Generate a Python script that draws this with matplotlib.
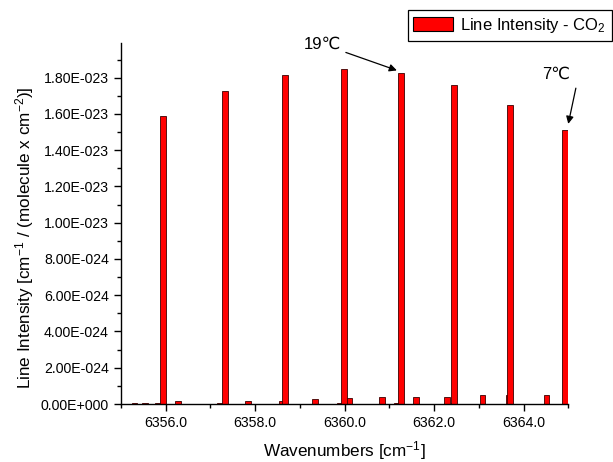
import matplotlib
matplotlib.use("Agg")
import matplotlib.pyplot as plt
import matplotlib.ticker as mticker
import matplotlib.patches as mpatches

plt.rcParams["font.family"] = ["Liberation Sans", "DejaVu Sans"]
plt.rcParams["mathtext.fontset"] = "custom"
plt.rcParams["mathtext.rm"] = "Liberation Sans"
plt.rcParams["mathtext.it"] = "Liberation Sans"
plt.rcParams["mathtext.default"] = "regular"

# ── Data ──────────────────────────────────────────────────────────────────────
# strong lines (wavenumber cm-1, intensity)
WN_STRONG = [6355.94, 6357.33, 6358.67, 6359.99, 6361.26, 6362.45, 6363.70, 6364.93]
I_STRONG = [1.586e-23, 1.729e-23, 1.815e-23, 1.846e-23, 1.823e-23, 1.757e-23, 1.650e-23, 1.514e-23]

# weak lines near the baseline
WN_WEAK = [6355.31, 6355.54, 6355.83, 6356.28, 6357.21, 6357.84, 6358.60, 6359.34,
           6359.90, 6360.10, 6360.84, 6361.17, 6361.60, 6362.29, 6362.43, 6363.08,
           6363.66, 6364.51]
I_WEAK = [3e-26, 5e-26, 5e-26, 1.4e-25, 3e-26, 1.4e-25, 1.7e-25, 2.5e-25,
          3e-26, 3.3e-25, 3.6e-25, 5e-26, 3.9e-25, 3.9e-25, 5e-26, 4.7e-25,
          5.0e-25, 5.2e-25]

BAR_W = 0.12
RED = "#FF0000"
EDGE = "#3A0000"


def sci_fmt(v, pos):
    s = f"{v:.2E}"
    mant, exp = s.split("E")
    return f"{mant}E{exp[0]}{int(exp[1:]):03d}"


fig = plt.figure(figsize=(6.13, 4.62), dpi=100, facecolor="white")
ax = fig.add_axes([0.197, 0.1255, 0.73, 0.781])

ax.bar(WN_WEAK, I_WEAK, width=BAR_W, color=RED, edgecolor=EDGE, linewidth=0.6)
ax.bar(WN_STRONG, I_STRONG, width=BAR_W, color=RED, edgecolor=EDGE, linewidth=0.6)

ax.set_xlim(6355.0, 6365.0)
ax.set_ylim(0, 1.99e-23)

ax.xaxis.set_major_locator(mticker.MultipleLocator(2))
ax.xaxis.set_minor_locator(mticker.MultipleLocator(1))
ax.xaxis.set_major_formatter(mticker.FormatStrFormatter("%.1f"))
ax.yaxis.set_major_locator(mticker.MultipleLocator(0.2e-23))
ax.yaxis.set_minor_locator(mticker.MultipleLocator(0.1e-23))
ax.yaxis.set_major_formatter(mticker.FuncFormatter(sci_fmt))
ax.yaxis.get_offset_text().set_visible(False)

ax.spines["top"].set_visible(False)
ax.spines["right"].set_visible(False)
for sp in ("left", "bottom"):
    ax.spines[sp].set_linewidth(1.0)

ax.tick_params(which="major", direction="out", length=5, width=1.0, labelsize=10.2)
ax.tick_params(which="minor", direction="out", length=3, width=1.0)

ax.set_xlabel("Wavenumbers [cm$^{-1}$]", fontsize=12.3, va="center")
ax.xaxis.set_label_coords(0.5, -0.128)
ax.set_ylabel("Line Intensity [cm$^{-1}$ / (molecule x cm$^{-2}$)]", fontsize=12.3, va="center")
ax.yaxis.set_label_coords(-0.215, 0.462)

# annotations (label + arrow drawn separately)
ax.text(6359.50, 1.983e-23, "19\u2103", fontsize=12, ha="center", va="center")
ax.annotate("", xy=(6361.17, 1.840e-23), xytext=(6360.03, 1.939e-23),
            annotation_clip=False,
            arrowprops=dict(arrowstyle="-|>", color="black", lw=0.9,
                            mutation_scale=11, shrinkA=0, shrinkB=0))
ax.text(6364.73, 1.818e-23, "7\u2103", fontsize=12, ha="center", va="center")
ax.annotate("", xy=(6365.0, 1.545e-23), xytext=(6365.17, 1.742e-23),
            annotation_clip=False,
            arrowprops=dict(arrowstyle="-|>", color="black", lw=0.9,
                            mutation_scale=11, shrinkA=0, shrinkB=0))

handle = mpatches.Patch(facecolor=RED, edgecolor="black", linewidth=0.8,
                        label="Line Intensity - CO$_2$")
leg = fig.legend(handles=[handle], loc="upper right",
                 bbox_to_anchor=(0.998, 0.978), fontsize=12,
                 frameon=True, fancybox=False, framealpha=1,
                 edgecolor="black", handlelength=2.4, handleheight=0.9,
                 borderpad=0.35, handletextpad=0.4, borderaxespad=0)
leg.get_frame().set_linewidth(0.9)

plt.savefig("out.png", dpi=100, facecolor="white")
plt.close()
